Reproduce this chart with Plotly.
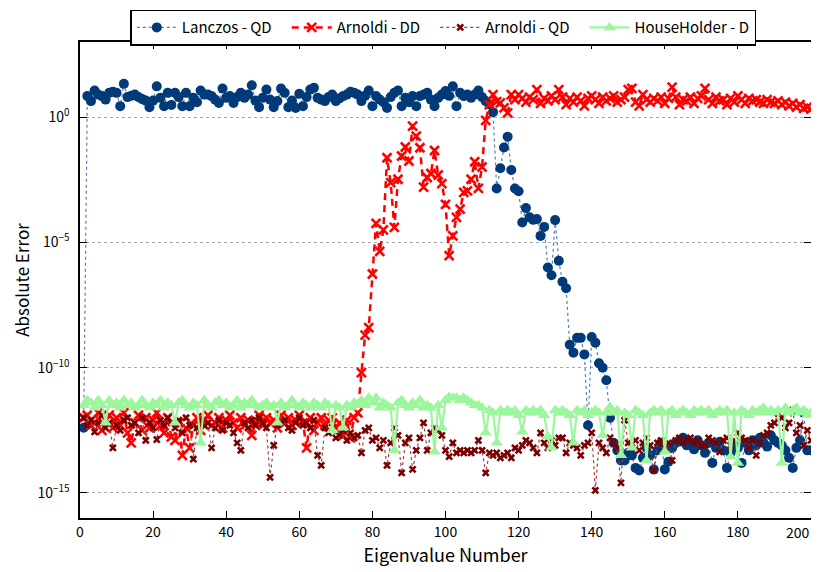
import plotly.graph_objects as go

# Eigenvalue numbers
eig_num = list(range(1, 201))

# log10(absolute error)
lanczos_qd_log10 = [
    -12.4, 0.84, 0.64, 1.06, 0.90, 0.84, 0.70, 0.97, 1.01, 0.97,
    0.44, 1.33, 0.80, 0.85, 0.90, 0.80, 0.72, 0.66, 0.40, 0.66,
    1.23, 0.77, 0.44, 0.97, 0.49, 0.97, 0.80, 0.44, 0.97, 0.44,
    0.77, 0.60, 1.06, 0.90, 0.90, 0.84, 0.70, 0.57, 1.14, 0.77,
    0.84, 0.57, 0.80, 0.97, 0.77, 0.90, 1.27, 0.66, 0.40, 0.77,
    1.10, 0.70, 0.40, 0.64, 1.14, 0.97, 0.40, 0.66, 0.37, 0.93,
    0.44, 0.80, 1.10, 1.17, 0.77, 0.70, 0.64, 0.80, 0.90, 0.64,
    0.75, 0.84, 0.90, 1.01, 0.97, 0.90, 0.64, 0.85, 1.06, 0.44,
    0.84, 0.70, 0.60, 0.37, 0.80, 0.97, 1.06, 0.44, 0.77, 0.60,
    0.84, 0.44, 0.84, 0.90, 0.97, 0.70, 0.44, 0.77, 0.90, 1.04,
    0.85, 1.23, 0.44, 0.97, 0.84, 0.90, 0.77, 0.90, 1.06, 0.80,
    0.64, 0.52, 0.20, -2.85, -2.04, -1.21, -0.78, -2.11, -2.85, -2.96,
    -4.20, -3.63, -4.00, -4.10, -4.07, -4.74, -4.38, -6.00, -6.31, -4.11,
    -5.73, -6.57, -6.83, -9.08, -9.40, -8.81, -8.81, -9.47, -12.3, -8.78,
    -9.00, -9.82, -10.0, -10.5, -12.0, -13.0, -13.3, -13.7, -13.7, -13.4,
    -13.5, -14.0, -14.1, -13.6, -13.2, -13.5, -14.06, -13.3, -13.0, -14.06,
    -13.75, -13.2, -13.0, -12.9, -12.8, -13.1, -13.0, -13.26, -12.9, -13.1,
    -13.4, -13.0, -13.8, -13.2, -12.96, -13.3, -14.0, -13.4, -13.1, -13.2,
    -13.8, -13.0, -13.3, -12.9, -13.1, -12.8, -13.0, -13.15, -12.7, -12.9,
    -13.0, -13.1, -13.3, -13.6, -14.0, -13.2, -12.9, -11.8, -13.3, -13.3,
]

arnoldi_dd_log10 = [
    -12.0, -11.9, -12.3, -12.2, -11.8, -12.5, -12.1, -11.9, -12.4, -12.0,
    -12.3, -11.8, -12.6, -13.0, -12.2, -11.9, -12.5, -12.0, -12.4, -12.1,
    -11.8, -12.3, -12.6, -12.0, -12.76, -12.9, -12.2, -13.5, -12.4, -13.2,
    -12.3, -12.0, -12.5, -12.1, -11.9, -12.3, -12.2, -12.0, -12.4, -12.1,
    -11.9, -12.2, -12.4, -12.0, -12.3, -12.1, -12.7, -12.2, -11.9, -12.3,
    -12.0, -12.2, -12.1, -12.4, -11.9, -12.2, -12.0, -12.3, -12.1, -11.9,
    -12.2, -13.2, -12.0, -12.5, -12.2, -12.0, -12.3, -12.1, -12.0, -12.4,
    -12.2, -12.7, -12.1, -12.8, -12.0, -11.8, -10.2, -8.7, -8.4, -6.26,
    -4.24, -5.36, -4.50, -1.62, -2.61, -4.40, -2.48, -1.55, -1.19, -1.75,
    -0.36, -0.76, -1.22, -2.79, -2.41, -2.25, -1.33, -2.31, -2.65, -3.48,
    -5.53, -4.74, -4.00, -3.67, -3.00, -2.94, -2.48, -1.78, -2.84, -1.99,
    -0.13, 0.50, 0.90, 0.62, 0.57, 0.37, 0.17, 0.90, 0.70, 0.90,
    0.75, 0.60, 0.80, 0.70, 1.10, 0.55, 0.75, 0.65, 0.85, 0.70,
    1.10, 0.80, 0.50, 0.75, 0.60, 0.80, 0.65, 0.45, 0.75, 0.85,
    0.70, 0.55, 0.80, 0.65, 0.75, 0.85, 0.60, 0.70, 0.80, 1.10,
    1.15, 0.60, 0.45, 0.90, 0.70, 0.60, 0.75, 0.65, 0.80, 0.55,
    0.75, 1.20, 0.80, 0.50, 0.70, 0.65, 0.80, 0.55, 0.75, 0.85,
    1.15, 0.70, 0.55, 0.80, 0.65, 0.70, 0.50, 0.75, 0.60, 0.85,
    0.70, 0.55, 0.75, 0.65, 0.70, 0.60, 0.55, 0.70, 0.60, 0.55,
    0.65, 0.50, 0.60, 0.45, 0.55, 0.40, 0.50, 0.35, 0.40, 0.32,
]

arnoldi_qd_log10 = [
    -12.0, -12.3, -12.1, -12.56, -12.2, -11.9, -12.4, -12.2, -13.2, -12.3,
    -12.5, -12.1, -12.0, -12.3, -12.2, -12.6, -12.0, -12.9, -12.2, -12.4,
    -12.87, -12.1, -12.3, -12.0, -12.2, -12.4, -12.1, -12.6, -12.0, -12.3,
    -13.65, -12.4, -12.1, -12.3, -12.2, -13.2, -12.4, -12.1, -12.5, -12.2,
    -12.3, -12.6, -13.0, -13.3, -12.2, -12.4, -12.1, -12.3, -12.0, -12.2,
    -12.4, -14.38, -13.1, -12.3, -12.2, -12.1, -12.4, -12.5, -12.2, -12.0,
    -12.3, -12.2, -12.4, -12.1, -13.5, -13.9, -12.4, -12.6, -12.2, -12.8,
    -12.7, -12.5, -12.9, -12.6, -12.8, -12.7, -13.4, -12.5, -12.4, -12.9,
    -12.8, -13.2, -12.9, -13.9, -13.0, -12.4, -12.7, -14.2, -13.0, -12.8,
    -14.06, -13.3, -12.8, -12.2, -13.3, -12.6, -12.4, -12.5, -12.7, -13.3,
    -13.55, -13.0, -13.4, -13.3, -13.4, -13.3, -13.4, -13.3, -12.9, -13.3,
    -14.2, -13.4, -13.5, -13.4, -13.6, -13.5, -13.4, -13.6, -13.2, -13.3,
    -13.1, -12.9, -13.0, -13.2, -13.4, -12.6, -13.0, -13.2, -12.9, -13.1,
    -12.8, -12.8, -13.4, -13.0, -13.1, -13.2, -13.5, -13.1, -13.0, -12.6,
    -14.9, -13.0, -13.2, -13.4, -12.8, -13.0, -13.2, -14.6, -12.1, -13.0,
    -13.2, -12.9, -13.3, -13.0, -12.8, -13.1, -14.1, -13.0, -12.9, -13.2,
    -13.0, -13.7, -12.9, -12.8, -13.0, -12.9, -12.8, -13.0, -12.9, -13.1,
    -13.1, -12.8, -12.9, -13.0, -13.36, -12.9, -12.8, -13.1, -12.9, -12.6,
    -12.8, -12.9, -13.2, -12.9, -13.5, -13.0, -12.7, -12.6, -12.3, -12.2,
    -11.83, -12.0, -12.4, -12.2, -11.7, -12.6, -12.3, -13.1, -12.5, -12.9,
]

householder_d_log10 = [
    -11.5, -11.3, -11.4, -11.6, -11.3, -11.5, -12.2, -11.3, -11.5, -11.4,
    -11.6, -11.3, -11.5, -11.4, -11.6, -11.5, -11.3, -11.5, -11.6, -11.4,
    -11.5, -11.3, -11.6, -11.4, -11.5, -12.2, -11.4, -11.3, -11.5, -11.6,
    -11.4, -11.5, -13.0, -11.3, -11.5, -11.6, -11.4, -11.3, -11.5, -11.4,
    -11.6, -11.5, -11.3, -11.6, -11.4, -11.5, -11.3, -11.5, -11.6, -11.5,
    -11.4, -11.6, -11.5, -12.2, -11.4, -11.6, -11.5, -11.3, -11.5, -11.6,
    -11.4, -11.5, -11.6, -11.4, -11.5, -11.6, -11.4, -11.5, -12.5, -11.5,
    -11.6, -12.4, -11.5, -11.6, -11.4, -11.5, -11.3, -11.5, -11.2, -11.4,
    -11.2, -11.6, -11.4, -11.5, -11.6, -13.3, -11.4, -11.3, -11.5, -11.6,
    -11.4, -11.5, -11.3, -11.6, -11.5, -11.6, -13.36, -11.5, -12.4, -11.3,
    -11.17, -11.2, -11.2, -11.3, -11.2, -11.3, -11.4, -11.5, -11.5, -11.6,
    -12.6, -11.7, -11.8, -13.0, -11.7, -11.8, -11.7, -11.8, -11.7, -11.9,
    -12.56, -11.7, -11.8, -11.7, -11.8, -11.7, -11.9, -12.76, -13.2, -11.7,
    -11.8, -11.7, -11.8, -11.9, -13.0, -11.7, -11.8, -11.7, -11.9, -11.8,
    -11.7, -11.8, -12.7, -11.8, -11.57, -11.8, -11.7, -13.5, -11.8, -11.9,
    -13.2, -11.7, -11.8, -11.9, -13.7, -11.8, -11.7, -11.8, -11.7, -13.36,
    -11.8, -11.7, -11.9, -11.8, -11.7, -11.8, -11.9, -11.7, -11.8, -11.7,
    -11.8, -11.7, -11.9, -11.8, -11.7, -11.8, -11.7, -13.56, -11.8, -13.8,
    -11.7, -11.8, -11.9, -11.7, -11.8, -11.7, -11.6, -11.8, -11.7, -11.8,
    -11.7, -13.8, -11.6, -11.8, -11.7, -11.6, -11.8, -11.7, -11.9, -11.8,
]

y_tick_vals = [1, 1e-5, 1e-10, 1e-15]
y_tick_text = ["10<sup>0</sup>", "10<sup>−5</sup>", "10<sup>−10</sup>", "10<sup>−15</sup>"]
x_tick_vals = list(range(0, 201, 20))
x_tick_text = [str(v) for v in x_tick_vals]
last_x_label = x_tick_text[-1]
x_tick_text[-1] = ""  # the last label is drawn right-aligned below, so it stays on the page

FONT = "Noto Sans CJK JP"
PAD = "\u00a0\u00a0\u00a0"


def to_val(exps):
    return [10 ** e for e in exps]


fig = go.Figure()
fig.add_trace(go.Scatter(
    x=eig_num, y=to_val(lanczos_qd_log10), name="Lanczos - QD" + PAD, mode="lines+markers",
    line=dict(color="#5b7fb0", width=1.2, dash="dot"),
    marker=dict(symbol="circle", size=10, color="#003a78"),
))
fig.add_trace(go.Scatter(
    x=eig_num, y=to_val(arnoldi_dd_log10), name="Arnoldi - DD" + PAD, mode="lines+markers",
    line=dict(color="#ff0000", width=2.5, dash="7px,5px"),
    marker=dict(symbol="x-thin-open", size=9, color="#ff0000",
                line=dict(color="#ff0000", width=2.6)),
))
fig.add_trace(go.Scatter(
    x=eig_num, y=to_val(arnoldi_qd_log10), name="Arnoldi - QD" + PAD, mode="lines+markers",
    line=dict(color="#a04040", width=1.2, dash="dot"),
    marker=dict(symbol="x-thin-open", size=6, color="#7a0000",
                line=dict(color="#7a0000", width=2.6)),
))
fig.add_trace(go.Scatter(
    x=eig_num, y=to_val(householder_d_log10), name="HouseHolder - D", mode="lines+markers",
    line=dict(color="#9cf79c", width=2.2),
    marker=dict(symbol="triangle-up", size=11, color="#9cf79c"),
))

fig.add_annotation(
    x=x_tick_vals[-1], xref="x", y=0, yref="paper", text=last_x_label,
    showarrow=False, xanchor="right", yanchor="top", yshift=-3, borderpad=0,
    font=dict(family=FONT, size=14, color="black"),
)

fig.update_layout(
    width=811, height=564,
    margin=dict(l=72, r=8, t=34, b=54, autoexpand=False),
    paper_bgcolor="white", plot_bgcolor="white",
    font=dict(family=FONT, size=14, color="black"),
    showlegend=True,
    legend=dict(
        orientation="h", x=0.497, xanchor="center", y=1.068, yanchor="top",
        bordercolor="black", borderwidth=1.5, bgcolor="white",
        font=dict(family=FONT, size=15), itemwidth=40, tracegroupgap=0,
    ),
    xaxis=dict(
        range=[0, 200], tickvals=x_tick_vals, ticktext=x_tick_text, ticks="inside", ticklen=7,
        tickwidth=1.2, tickcolor="black", mirror="ticks", showline=True,
        linecolor="black", linewidth=1.6, showgrid=False, zeroline=False,
        automargin=False, ticklabeloverflow="allow",
        tickfont=dict(family=FONT, size=14),
        title=dict(text="Eigenvalue Number", font=dict(family=FONT, size=18), standoff=6),
    ),
    yaxis=dict(
        type="log", range=[-16, 3], tickvals=y_tick_vals, ticktext=y_tick_text,
        ticks="inside", ticklen=7, tickwidth=1.2, tickcolor="black", mirror="ticks",
        showline=True, linecolor="black", linewidth=1.6,
        showgrid=True, gridcolor="#a8a8a8", gridwidth=1, griddash="dot",
        zeroline=False, automargin=False, tickfont=dict(family=FONT, size=14),
        ticklabelstandoff=6,
        title=dict(text="Absolute Error", font=dict(family=FONT, size=17), standoff=4),
    ),
)

fig.write_html("out.html")
